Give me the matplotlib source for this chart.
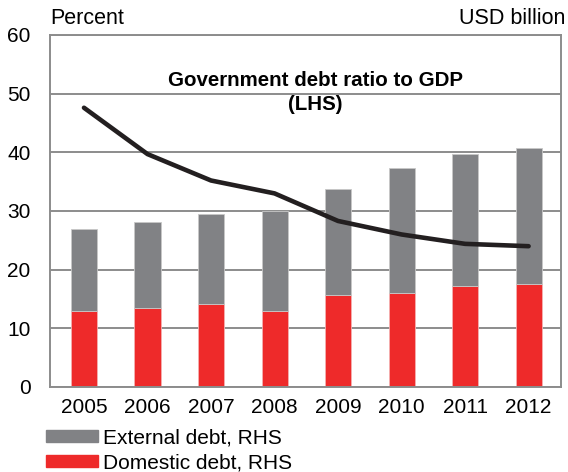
import matplotlib.pyplot as plt
from matplotlib.patches import Patch

plt.rcParams['font.family'] = ['Liberation Sans', 'DejaVu Sans']

years    = ["2005", "2006", "2007", "2008", "2009", "2010", "2011", "2012"]
domestic = [13.0, 13.5, 14.2, 12.9, 15.6, 16.0, 17.3, 17.6]
total    = [27.0, 28.2, 29.5, 30.0, 33.8, 37.3, 39.8, 40.8]
external = [t - d for t, d in zip(total, domestic)]
debt_gdp = [47.6, 39.7, 35.2, 33.0, 28.3, 26.0, 24.4, 24.0]

GRAY  = "#818285"
RED   = "#ee2a2a"
GRID  = "#8c8c8c"
LINE  = "#231f20"

fig = plt.figure(figsize=(5.68, 4.72), dpi=100)
ax = fig.add_axes([50/568, 1 - 387/472, (561-50)/568, (387-35)/472])

x = range(len(years))
ax.bar(x, domestic, width=0.41, color=RED, edgecolor="#f4b0b0", linewidth=0.6, zorder=2)
ax.bar(x, external, width=0.41, bottom=domestic, color=GRAY, edgecolor="#c8c8c8",
       linewidth=0.6, zorder=2)
ax.plot(x, debt_gdp, color=LINE, linewidth=3.3, solid_capstyle="round", zorder=3)

ax.set_xlim(-0.535, 7.51)
ax.set_ylim(0, 60)
ax.set_yticks(range(0, 61, 10))
ax.set_xticks(list(x))
ax.set_xticklabels(years)
ax.yaxis.grid(True, color=GRID, linewidth=1.4, zorder=1)
ax.set_axisbelow(True)
for s in ax.spines.values():
    s.set_color(GRID)
    s.set_linewidth(1.4)
ax.tick_params(length=0, labelsize=15, colors="black")
ax.tick_params(axis="y", pad=14)
ax.tick_params(axis="x", pad=8)

fig.text(315/568, 1 - 81/472, "Government debt ratio to GDP", ha="center", va="center",
         fontsize=14.8, fontweight="bold")
fig.text(315/568, 1 - 104/472, "(LHS)", ha="center", va="center",
         fontsize=14.8, fontweight="bold")

fig.text(50/568, 1 - 19/472, "Percent", ha="left", va="center", fontsize=15.5)
fig.text(565/568, 1 - 19/472, "USD billion", ha="right", va="center", fontsize=15.5)

handles = [Patch(color=GRAY, label="External debt, RHS"),
           Patch(color=RED, label="Domestic debt, RHS")]
fig.legend(handles=handles, loc="upper left", bbox_to_anchor=(46/568, 1 - 428/472),
           frameon=False, fontsize=15, handlelength=2.5, handleheight=0.5,
           handletextpad=0.24, labelspacing=0.3, borderaxespad=0, borderpad=0)

fig.savefig("out.png", dpi=100)
